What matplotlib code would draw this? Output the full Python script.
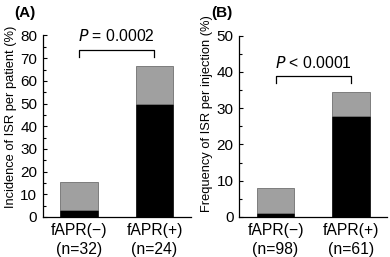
import numpy as np
import matplotlib.pyplot as plt
from matplotlib.ticker import MultipleLocator

plt.rcParams['font.family'] = ['Liberation Sans', 'DejaVu Sans']

groups_a = ['fAPR(\u2212)\n(n=32)', 'fAPR(+)\n(n=24)']
black_a = [3.1, 50.0]
total_a = [15.6, 66.7]

groups_b = ['fAPR(\u2212)\n(n=98)', 'fAPR(+)\n(n=61)']
black_b = [1.0, 27.9]
total_b = [8.1, 34.4]

gray_c = '#a0a0a0'
W, H = 390, 257
fig = plt.figure(figsize=(W / 100, H / 100), dpi=100)


def panel(left, groups, black, total, ymax, ylabel, label_y, letter, ptxt, bry):
    ax = fig.add_axes([left / W, (H - 217) / H, 148 / W, (217 - 35.5) / H])
    x = np.arange(len(groups))
    gray = np.array(total) - np.array(black)
    ax.bar(x, black, width=0.5, color='black', edgecolor='black', linewidth=0.5)
    ax.bar(x, gray, bottom=black, width=0.5, color=gray_c, edgecolor='#707070', linewidth=0.6)
    ax.set_xlim(-0.48, 1.48)
    ax.set_ylim(0, ymax)
    ax.yaxis.set_major_locator(MultipleLocator(10))
    ax.yaxis.set_minor_locator(MultipleLocator(5))
    ax.tick_params(axis='y', which='both', direction='in', length=3, width=0.8,
                   labelsize=11, pad=4)
    ax.tick_params(axis='y', which='minor', length=2)
    ax.tick_params(axis='x', length=0, labelsize=11.3, pad=4)
    ax.set_xticks(x)
    ax.set_xticklabels(groups, linespacing=1.35)
    for s in ['top', 'right']:
        ax.spines[s].set_visible(False)
    for s in ['left', 'bottom']:
        ax.spines[s].set_linewidth(0.9)
    ax.set_ylabel(ylabel, fontsize=9.3)
    ax.yaxis.set_label_coords(-0.175, label_y)
    # significance bracket
    d = ymax * 0.037
    ax.plot([x[0], x[0], x[1], x[1]], [bry - d, bry, bry, bry - d], color='black', lw=0.9)
    ax.text(0.5, bry + ymax * 0.03, ptxt, ha='center', va='bottom', fontsize=11.3)
    fig.text((left - 28) / W, 1 - 12.5 / H, letter, fontsize=11, fontweight='bold',
             ha='left', va='center')
    return ax


ax_a = panel(42.7, groups_a, black_a, total_a, 80, 'Incidence of ISR per patient (%)', 0.55,
             '(A)', r'$P$ = 0.0002', 73.7)
ax_b = panel(239.3, groups_b, black_b, total_b, 50, 'Frequency of ISR per injection (%)', 0.57,
             '(B)', r'$P$ < 0.0001', 38.8)

fig.savefig('out.png', dpi=100)
